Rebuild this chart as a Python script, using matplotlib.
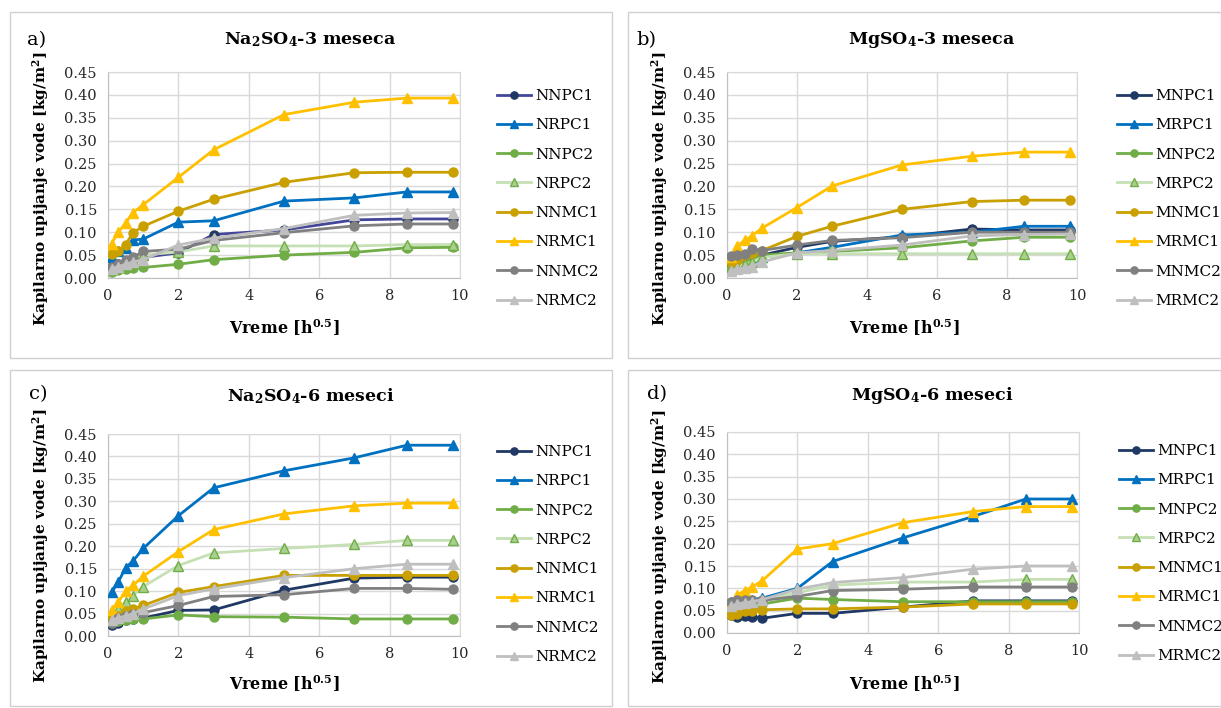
import matplotlib.pyplot as plt
from matplotlib.patches import Rectangle

plt.rcParams['font.family'] = 'DejaVu Serif'
plt.rcParams['mathtext.fontset'] = 'dejavuserif'

# sqrt(time) in h^0.5
x = [0.1, 0.29, 0.5, 0.71, 1, 2, 3, 5, 7, 8.49, 9.8]

# a) Na2SO4 - 3 meseca
a_NNPC1 = [0.025, 0.030, 0.035, 0.040, 0.045, 0.055, 0.095, 0.105, 0.127, 0.129, 0.129]
a_NRPC1 = [0.045, 0.058, 0.065, 0.083, 0.085, 0.122, 0.125, 0.168, 0.175, 0.188, 0.188]
a_NNPC2 = [0.013, 0.018, 0.020, 0.022, 0.023, 0.030, 0.040, 0.050, 0.056, 0.066, 0.067]
a_NRPC2 = [0.020, 0.025, 0.035, 0.040, 0.050, 0.057, 0.070, 0.070, 0.070, 0.073, 0.073]
a_NNMC1 = [0.052, 0.058, 0.073, 0.099, 0.113, 0.146, 0.172, 0.209, 0.230, 0.231, 0.231]
a_NRMC1 = [0.075, 0.100, 0.120, 0.143, 0.160, 0.220, 0.280, 0.357, 0.384, 0.393, 0.393]
a_NNMC2 = [0.025, 0.030, 0.040, 0.045, 0.058, 0.063, 0.082, 0.099, 0.114, 0.118, 0.118]
a_NRMC2 = [0.020, 0.025, 0.030, 0.035, 0.040, 0.072, 0.087, 0.108, 0.137, 0.142, 0.143]

# b) MgSO4 - 3 meseca
b_MNPC1 = [0.030, 0.035, 0.040, 0.045, 0.050, 0.067, 0.080, 0.090, 0.107, 0.105, 0.105]
b_MRPC1 = [0.025, 0.030, 0.035, 0.040, 0.045, 0.055, 0.067, 0.094, 0.100, 0.113, 0.113]
b_MNPC2 = [0.020, 0.030, 0.035, 0.045, 0.050, 0.055, 0.058, 0.066, 0.081, 0.089, 0.089]
b_MRPC2 = [0.020, 0.025, 0.030, 0.035, 0.045, 0.053, 0.053, 0.053, 0.053, 0.053, 0.053]
b_MNMC1 = [0.035, 0.040, 0.050, 0.055, 0.060, 0.091, 0.113, 0.150, 0.167, 0.170, 0.170]
b_MRMC1 = [0.045, 0.070, 0.082, 0.092, 0.109, 0.154, 0.201, 0.247, 0.266, 0.275, 0.275]
b_MNMC2 = [0.048, 0.050, 0.053, 0.064, 0.060, 0.072, 0.082, 0.088, 0.100, 0.100, 0.100]
b_MRMC2 = [0.015, 0.020, 0.022, 0.025, 0.035, 0.055, 0.060, 0.072, 0.092, 0.095, 0.096]

# c) Na2SO4 - 6 meseci
c_NNPC1 = [0.025, 0.030, 0.035, 0.037, 0.040, 0.057, 0.058, 0.102, 0.129, 0.131, 0.131]
c_NRPC1 = [0.097, 0.120, 0.152, 0.167, 0.195, 0.268, 0.330, 0.368, 0.397, 0.425, 0.425]
c_NNPC2 = [0.030, 0.033, 0.035, 0.037, 0.038, 0.047, 0.043, 0.042, 0.038, 0.038, 0.038]
c_NRPC2 = [0.045, 0.060, 0.075, 0.090, 0.110, 0.157, 0.185, 0.195, 0.204, 0.213, 0.213]
c_NNMC1 = [0.040, 0.045, 0.055, 0.060, 0.068, 0.097, 0.110, 0.135, 0.135, 0.135, 0.135]
c_NRMC1 = [0.058, 0.075, 0.100, 0.113, 0.133, 0.188, 0.237, 0.272, 0.290, 0.296, 0.296]
c_NNMC2 = [0.030, 0.040, 0.045, 0.050, 0.052, 0.068, 0.088, 0.092, 0.106, 0.106, 0.104]
c_NRMC2 = [0.035, 0.040, 0.045, 0.050, 0.060, 0.090, 0.105, 0.130, 0.150, 0.160, 0.160]

# d) MgSO4 - 6 meseci
d_MNPC1 = [0.040, 0.035, 0.037, 0.036, 0.033, 0.044, 0.044, 0.058, 0.072, 0.072, 0.072]
d_MRPC1 = [0.070, 0.075, 0.075, 0.075, 0.078, 0.100, 0.160, 0.213, 0.261, 0.300, 0.300]
d_MNPC2 = [0.055, 0.060, 0.063, 0.065, 0.065, 0.078, 0.075, 0.070, 0.070, 0.070, 0.070]
d_MRPC2 = [0.050, 0.060, 0.065, 0.068, 0.073, 0.090, 0.107, 0.114, 0.114, 0.120, 0.120]
d_MNMC1 = [0.040, 0.042, 0.050, 0.050, 0.052, 0.054, 0.054, 0.058, 0.065, 0.065, 0.065]
d_MRMC1 = [0.065, 0.085, 0.095, 0.103, 0.117, 0.188, 0.200, 0.247, 0.272, 0.283, 0.283]
d_MNMC2 = [0.070, 0.075, 0.075, 0.073, 0.073, 0.082, 0.095, 0.098, 0.103, 0.103, 0.103]
d_MRMC2 = [0.060, 0.065, 0.068, 0.070, 0.075, 0.098, 0.113, 0.124, 0.143, 0.150, 0.150]

a_names = ['NNPC1', 'NRPC1', 'NNPC2', 'NRPC2', 'NNMC1', 'NRMC1', 'NNMC2', 'NRMC2']
b_names = ['MNPC1', 'MRPC1', 'MNPC2', 'MRPC2', 'MNMC1', 'MRMC1', 'MNMC2', 'MRMC2']

# line color, marker, marker face, marker edge
STYLES = [
    ('#203864', 'o', '#203864', '#203864'),
    ('#0070C0', '^', '#0070C0', '#0070C0'),
    ('#70AD47', 'o', '#70AD47', '#70AD47'),
    ('#C5E0B4', '^', '#A9D18E', '#70AD47'),
    ('#C9A000', 'o', '#C9A000', '#C9A000'),
    ('#FFC000', '^', '#FFC000', '#FFC000'),
    ('#808080', 'o', '#808080', '#808080'),
    ('#BFBFBF', '^', '#BFBFBF', '#BFBFBF'),
]

W, H = 1221, 708
fig = plt.figure(figsize=(W / 100, H / 100), dpi=100)


def fx(px):
    return px / W


def fy(py):
    return 1 - py / H


def panel(box, ax_box, series, names, title, letter, letter_xy, title_xy,
          ylab_xy, xlab_xy, leg_xy, first_color=None):
    l, t, r, b = box
    fig.patches.append(Rectangle((fx(l), fy(b)), fx(r - l), (b - t) / H,
                                 transform=fig.transFigure, fill=False,
                                 edgecolor='#D0D0D0', linewidth=1.0))
    l, t, r, b = ax_box
    ax = fig.add_axes([fx(l), fy(b), fx(r - l), (b - t) / H])
    for i, (ys, name) in enumerate(zip(series, names)):
        lc, m, mf, me = STYLES[i]
        if i == 0 and first_color:
            lc = first_color
        ms = 6.5 if m == 'o' else 7.5
        ax.plot(x, ys, color=lc, linewidth=2.0, marker=m, markersize=ms,
                markerfacecolor=mf, markeredgecolor=me, markeredgewidth=1.0,
                label=name, zorder=3)
    ax.set_xlim(0, 10)
    ax.set_ylim(0, 0.45)
    ax.set_xticks(range(0, 11, 2))
    ax.set_yticks([i * 0.05 for i in range(10)])
    ax.set_yticklabels([f'{i * 0.05:.2f}' for i in range(10)])
    ax.grid(True, color='#D9D9D9', linewidth=1.0, zorder=0)
    ax.tick_params(length=0, labelsize=10.5, pad=8, labelcolor='#262626')
    for s in ax.spines.values():
        s.set_color('#D9D9D9')
    ax.spines['left'].set_color('#BFBFBF')
    ax.spines['bottom'].set_color('#BFBFBF')
    ax.legend(loc='upper left', bbox_to_anchor=(fx(leg_xy[0]), fy(leg_xy[1])),
              bbox_transform=fig.transFigure, frameon=False, fontsize=11,
              borderpad=0, borderaxespad=0, labelspacing=1.0,
              handlelength=2.2, handletextpad=0.3, markerscale=0.8)
    fig.text(fx(title_xy[0]), fy(title_xy[1]), title, ha='center',
             va='center', fontsize=12.5, fontweight='bold')
    fig.text(fx(letter_xy[0]), fy(letter_xy[1]), letter, ha='left',
             va='center', fontsize=14)
    fig.text(fx(ylab_xy[0]), fy(ylab_xy[1]),
             r'Kapilarno upijanje vode [kg/m$^\mathbf{2}$]', rotation=90,
             ha='center', va='center', fontsize=11, fontweight='bold')
    fig.text(fx(xlab_xy[0]), fy(xlab_xy[1]), r'Vreme [h$^\mathbf{0.5}$]',
             ha='center', va='center', fontsize=11.5, fontweight='bold')
    return ax


panel((10, 12, 612, 358), (108, 72, 460, 278),
      [a_NNPC1, a_NRPC1, a_NNPC2, a_NRPC2, a_NNMC1, a_NRMC1, a_NNMC2, a_NRMC2],
      a_names, r'Na$_\mathbf{2}$SO$_\mathbf{4}$-3 meseca', 'a)',
      (27, 40), (310, 40), (41, 189), (284, 328), (497, 89),
      first_color='#44469A')
panel((628, 12, 1221, 358), (727, 72, 1077, 278),
      [b_MNPC1, b_MRPC1, b_MNPC2, b_MRPC2, b_MNMC1, b_MRMC1, b_MNMC2, b_MRMC2],
      b_names, r'MgSO$_\mathbf{4}$-3 meseca', 'b)',
      (636, 40), (932, 40), (660, 189), (904, 328), (1117, 89))
panel((10, 370, 612, 706), (108, 434, 460, 636),
      [c_NNPC1, c_NRPC1, c_NNPC2, c_NRPC2, c_NNMC1, c_NRMC1, c_NNMC2, c_NRMC2],
      a_names, r'Na$_\mathbf{2}$SO$_\mathbf{4}$-6 meseci', 'c)',
      (29, 394), (311, 396), (41, 546), (284, 684), (497, 445))
panel((628, 370, 1221, 706), (727, 432, 1079, 633),
      [d_MNPC1, d_MRPC1, d_MNPC2, d_MRPC2, d_MNMC1, d_MRMC1, d_MNMC2, d_MRMC2],
      b_names, r'MgSO$_\mathbf{4}$-6 meseci', 'd)',
      (647, 394), (932, 396), (660, 547), (904, 684), (1119, 444))

fig.savefig('out.png', dpi=100)
